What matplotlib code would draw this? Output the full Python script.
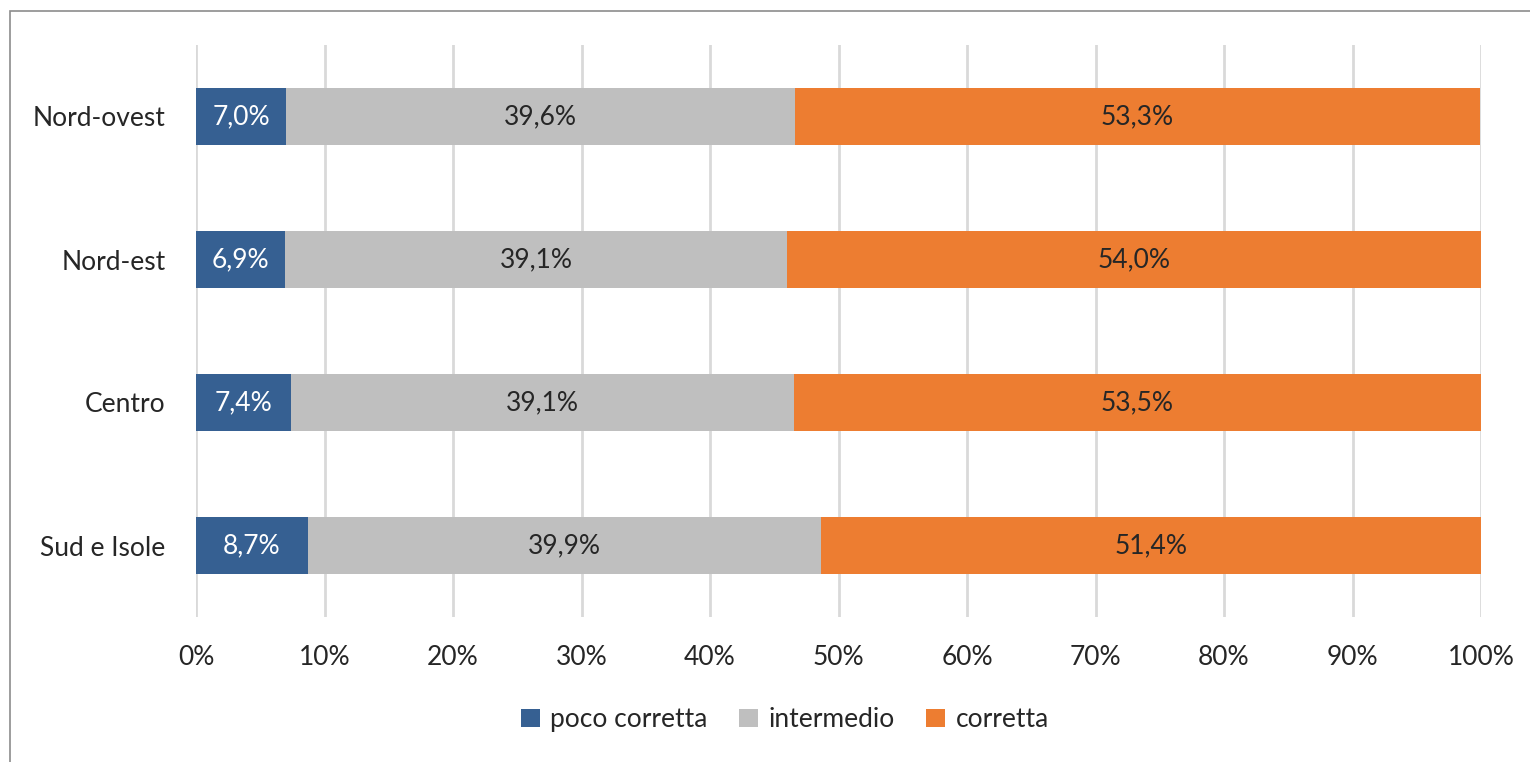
import matplotlib.pyplot as plt
from matplotlib.patches import Rectangle
import numpy as np

regions = ['Nord-ovest', 'Nord-est', 'Centro', 'Sud e Isole']
poco = [7.0, 6.9, 7.4, 8.7]
intermedio = [39.6, 39.1, 39.1, 39.9]
corretta = [53.3, 54.0, 53.5, 51.4]
series_names = ['poco corretta', 'intermedio', 'corretta']
colors = ['#366092', '#BFBFBF', '#ED7D31']
label_colors = ['white', '#262626', '#262626']

plt.rcParams['font.family'] = ['Lato', 'DejaVu Sans']
FS = 19

fig = plt.figure(figsize=(15.3, 7.62), dpi=100)
ax = fig.add_axes([196 / 1530, 1 - 617 / 762, (1481 - 196) / 1530, (617 - 45) / 762])

ypos = np.arange(len(regions))
left = np.zeros(len(regions))
series = [poco, intermedio, corretta]
for vals, name, col, lc in zip(series, series_names, colors, label_colors):
    vals = np.array(vals)
    ax.barh(ypos, vals, left=left, height=0.40, color=col, label=name, zorder=3)
    for y, l, v in zip(ypos, left, vals):
        ax.text(l + v / 2, y, f'{v:.1f}%'.replace('.', ','), ha='center', va='center',
                fontsize=FS, color=lc, zorder=4)
    left = left + vals

ax.set_xlim(0, 100)
ax.set_ylim(len(regions) - 0.5, -0.5)
ax.set_xticks(np.arange(0, 101, 10))
ax.set_xticklabels([f'{t}%' for t in range(0, 101, 10)], fontsize=FS, color='#262626')
ax.set_yticks(ypos)
ax.set_yticklabels(regions, fontsize=FS, color='#262626')
ax.tick_params(length=0)
ax.tick_params(axis='x', pad=20)
ax.tick_params(axis='y', pad=22)
ax.grid(axis='x', color='#D9D9D9', linewidth=2, zorder=0)
for s in ax.spines.values():
    s.set_visible(False)

ax.legend(loc='center', bbox_to_anchor=(0.5 + (785 - 838.5) / 1285, -0.18), ncol=3, frameon=False,
          fontsize=FS, handlelength=0.7, handleheight=0.7, handletextpad=0.4, columnspacing=1.2,
          labelcolor='#262626')

fig.patches.append(Rectangle((10 / 1530, -0.1), 1.2, 1 - 11 / 762 + 0.1, transform=fig.transFigure,
                             fill=False, edgecolor='#8C8C8C', linewidth=1.2))

plt.savefig('out.png')
